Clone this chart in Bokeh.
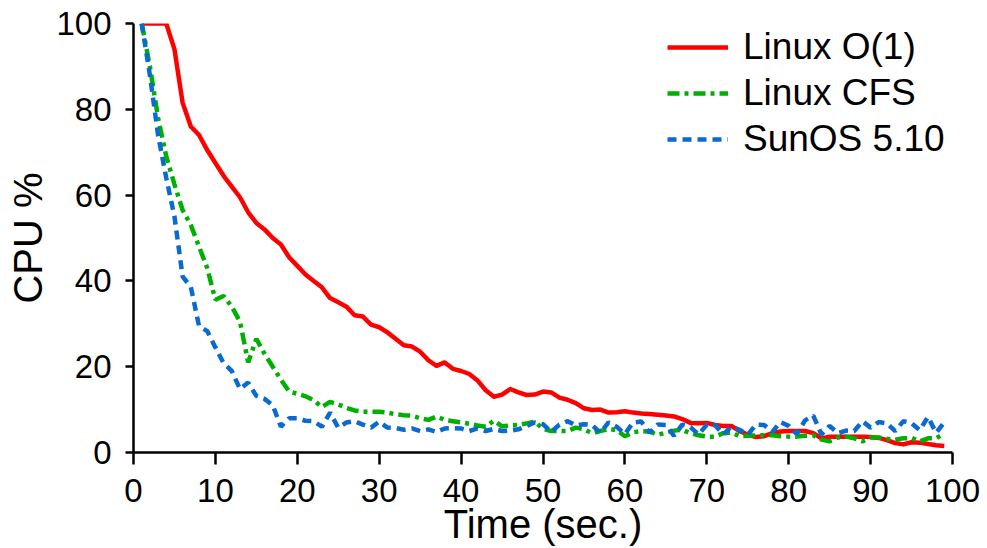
from bokeh.plotting import figure
from bokeh.models import Range1d, FixedTicker, Legend, LegendItem
from bokeh.embed import file_html
from bokeh.resources import INLINE

time_sec = list(range(1, 100))

linux_o1 = [100, 100, 100, 100, 94, 81.5, 76, 74, 70.5, 67.5,
            64.5, 62, 59.5, 56, 53.5, 52, 50, 48.5, 45.5, 43.5,
            41.5, 40, 38.5, 36, 35, 34, 32, 31.7, 29.8, 29.2,
            28, 26.5, 25, 24.7, 23.5, 21.5, 20.2, 21, 19.5, 19,
            18.3, 16.8, 14.5, 13, 13.5, 14.8, 14, 13.4, 13.5, 14.2,
            14, 12.8, 12.3, 11.5, 10.3, 9.9, 10, 9.3, 9.4, 9.6,
            9.3, 9.1, 9.0, 8.8, 8.6, 8.4, 7.8, 6.9, 6.8, 6.9,
            6.4, 6.2, 6.2, 5.0, 4.2, 3.6, 3.8, 4.5, 4.9, 5.0,
            5.0, 5.0, 4.5, 3.3, 3.7, 3.7, 3.7, 3.7, 3.7, 3.6,
            3.4, 2.9, 2.2, 1.9, 2.4, 2.3, 2.0, 1.7, 1.5]

linux_cfs = [100, 90, 78, 69, 62.5, 56.5, 53, 48, 43, 35.6,
             36.5, 34, 30.5, 21, 26.5, 23, 20, 17, 14.2, 13.7,
             13.1, 12.2, 10.6, 11.8, 11.2, 10.4, 9.8, 9.5, 9.5, 9.5,
             9.3, 8.9, 8.7, 8.6, 8.0, 7.6, 8.4, 7.6, 7.3, 7.0,
             6.7, 6.3, 6.0, 7.4, 6.1, 6.3, 6.4, 6.8, 7.2, 5.5,
             5.0, 5.0, 5.0, 5.8, 5.4, 4.5, 5.0, 5.5, 5.2, 3.8,
             4.7, 5.0, 4.9, 4.1, 4.6, 5.1, 5.3, 4.5, 4.0, 3.7,
             3.7, 4.5, 4.7, 3.8, 3.9, 4.0, 4.0, 4.0, 3.8, 3.7,
             3.7, 3.9, 4.0, 3.0, 2.6, 3.5, 3.7, 3.3, 2.6, 3.5,
             3.5, 3.2, 3.0, 3.3, 3.4, 2.6, 3.3, 3.3, 4.5]

sunos = [100, 88, 74, 64, 55, 41, 38.6, 29.5, 28.3, 24.5,
         20.8, 19, 14.8, 16.3, 13.2, 12.5, 11, 6, 8, 8,
         7.4, 7.3, 6, 9.3, 5.8, 7, 7.3, 6.5, 5.8, 7.2,
         5.8, 5.7, 5.3, 5.6, 5.0, 5.4, 4.8, 5.6, 5.7, 5.6,
         5.0, 5.6, 5.0, 5.5, 5.0, 5.1, 5.4, 6.2, 7.0, 6.6,
         4.8, 6.5, 7.3, 6.3, 6.6, 6.4, 4.6, 7.0, 6.0, 4.3,
         7.0, 7.2, 4.6, 6.5, 6.4, 3.9, 6.5, 5.9, 4.2, 6.5,
         6.4, 4.2, 6.0, 5.3, 4.1, 6.5, 6.4, 4.8, 7.1, 6.2,
         4.3, 7.5, 8.6, 4.2, 6.2, 4.5, 5.1, 5.0, 7.3, 5.8,
         7.1, 6.8, 5.0, 7.3, 6.8, 5.2, 8.3, 4.6, 7.0]

series_names = ["Linux O(1)", "Linux CFS", "SunOS 5.10"]
x_ticks = list(range(0, 101, 10))
y_ticks = list(range(0, 101, 20))

FONT = "Liberation Sans"

p = figure(width=987, height=548, output_backend="svg", toolbar_location=None,
           x_range=Range1d(0, 100), y_range=Range1d(0, 100),
           min_border_left=133, min_border_right=35, min_border_top=23, min_border_bottom=95)
p.outline_line_color = None
p.xgrid.visible = False
p.ygrid.visible = False
p.background_fill_color = "white"
p.border_fill_color = "white"

r1 = p.line(time_sec, linux_o1, line_color="#ff0000", line_width=4.5, line_join="round")
r2 = p.line(time_sec, linux_cfs, line_color="#00b000", line_width=4.5, line_dash="12 5 4 5")
r3 = p.line(time_sec, sunos, line_color="#0a6ad0", line_width=4.5, line_dash="9 6")

for ax in (p.xaxis[0], p.yaxis[0]):
    ax.axis_line_width = 2.5
    ax.axis_line_color = "black"
    ax.major_tick_line_width = 2.5
    ax.major_tick_line_color = "black"
    ax.major_tick_in = 0
    ax.minor_tick_line_color = None
    ax.major_label_text_font = FONT
    ax.major_label_text_font_size = "33px"
    ax.major_label_text_color = "black"
    ax.axis_label_text_font = FONT
    ax.axis_label_text_font_size = "40px"
    ax.axis_label_text_font_style = "normal"
    ax.axis_label_text_color = "black"

p.xaxis.ticker = FixedTicker(ticks=x_ticks)
p.yaxis.ticker = FixedTicker(ticks=y_ticks)
p.xaxis.major_tick_out = 12
p.xaxis.major_label_standoff = 14
p.xaxis.axis_label = "Time (sec.)"
p.xaxis.axis_label_standoff = -3
p.yaxis.major_tick_out = 8
p.yaxis.major_label_standoff = 14
p.yaxis.axis_label = "CPU %"
p.yaxis.axis_label_standoff = 3

legend = Legend(items=[LegendItem(label=series_names[0], renderers=[r1]),
                       LegendItem(label=series_names[1], renderers=[r2]),
                       LegendItem(label=series_names[2], renderers=[r3])],
                location=(534, 292))
legend.border_line_color = None
legend.background_fill_alpha = 0
legend.padding = 0
legend.margin = 0
legend.spacing = 4
legend.glyph_width = 61
legend.glyph_height = 20
legend.label_standoff = 15
legend.label_text_font = FONT
legend.label_text_font_size = "37px"
legend.label_text_color = "black"
p.add_layout(legend, "center")

open("out.html", "w").write(file_html(p, INLINE))
